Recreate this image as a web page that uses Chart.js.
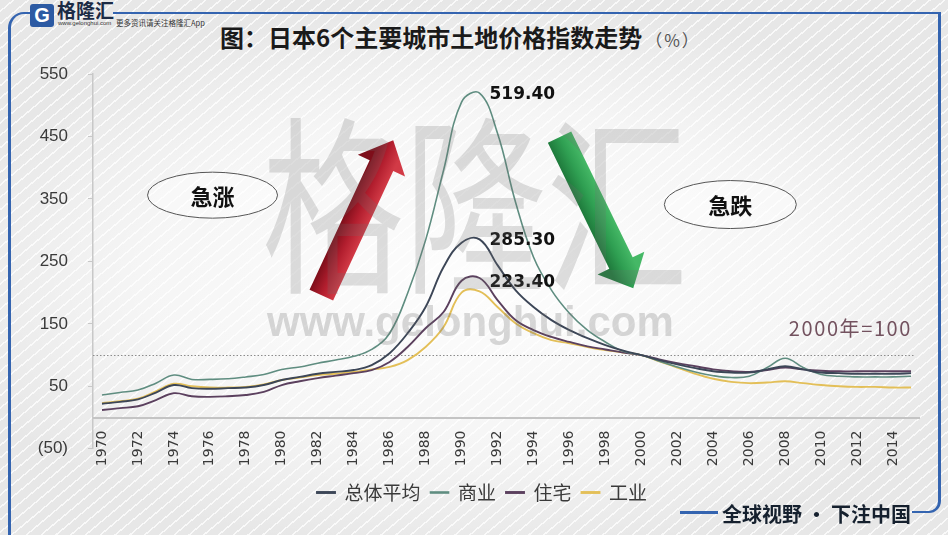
<!DOCTYPE html>
<html>
<head>
<meta charset="utf-8">
<script src="https://cdn.jsdelivr.net/npm/chart.js@4.4.1/dist/chart.umd.min.js"></script>
<style>
html, body { margin: 0; padding: 0; }
body {
  width: 948px; height: 535px; overflow: hidden; position: relative;
  font-family: "Noto Sans CJK SC", sans-serif;
  background:
    radial-gradient(ellipse 58% 52% at 50% 52%, rgba(255,255,255,0.92) 0%, rgba(255,255,255,0.6) 60%, rgba(255,255,255,0) 100%),
    repeating-linear-gradient(140deg, rgba(255,255,255,0) 0px, rgba(255,255,255,0) 8px, rgba(255,255,255,0.75) 8px, rgba(255,255,255,0.75) 9.5px),
    #e7e7e7;
}
#chartBox { position: absolute; left: 0; top: 0; width: 948px; height: 535px; }
#chartBox canvas { display: block; }
.abs { position: absolute; white-space: nowrap; }
#title { left: 220px; top: 19px; font-size: 24px; font-weight: 700; color: #1a1a1a; }
#title span { font-size: 17px; font-weight: 400; color: #555; letter-spacing: 2px; margin-left: 3px; }
#wm1 { left: 262px; top: 100px; font-size: 142px; line-height: 1; color: rgba(110,110,110,0.22);
  transform: scaleY(1.34); transform-origin: top left; pointer-events: none; }
#wm2 { left: 267px; top: 301px; font: bold 42px "Liberation Sans", sans-serif; line-height: 42px;
  color: rgba(110,110,110,0.26); pointer-events: none; }
#frameL { left: 8px; top: 12px; width: 22px; height: 540px; border-left: 3px solid #3464b0; border-top: 2px solid #3464b0; border-top-left-radius: 16px; }
#frameR { left: 113px; top: 12px; width: 825px; height: 478px; border-top: 2px solid #3464b0; border-right: 3px solid #3464b0; }
#frameC { left: 912px; top: 486px; width: 26px; height: 25px; border-right: 3px solid #3464b0; border-bottom: 2.5px solid #3464b0; border-bottom-right-radius: 12px; }
#frameB { left: 680px; top: 511px; width: 38px; height: 2.5px; background: #3464b0; }
#slogan { left: 722px; top: 500px; font-size: 20px; font-weight: 700; color: #15202e; line-height: 28px; }
#logoIcon { left: 30px; top: 4px; width: 24px; height: 23px; background: #2c5aa3; border-radius: 3px;
  color: #fff; font: bold 20px "Liberation Sans", sans-serif; line-height: 23px; text-align: center; }
#logoText { left: 57px; top: -1px; font-size: 19px; font-weight: 700; color: #1c2b45; line-height: 22px; }
#logoUrl { left: 58px; top: 20px; font: 6px "Liberation Sans", sans-serif; color: #333; }
#logoTip { left: 116px; top: 17px; font-size: 7.5px; color: #333; }
</style>
</head>
<body>
<div id="frameL" class="abs"></div>
<div id="frameR" class="abs"></div>
<div id="frameC" class="abs"></div>
<div id="frameB" class="abs"></div>
<div id="logoIcon" class="abs">G</div>
<div id="logoText" class="abs">格隆汇</div>
<div id="logoUrl" class="abs">www.gelonghui.com</div>
<div id="logoTip" class="abs">更多资讯请关注格隆汇App</div>
<div id="title" class="abs">图：日本6个主要城市土地价格指数走势<span>（%）</span></div>
<div id="chartBox"><canvas id="landChart" width="948" height="535"></canvas></div>
<div id="wm1" class="abs">格隆汇</div>
<div id="wm2" class="abs">www.gelonghui.com</div>
<div id="slogan" class="abs">全球视野 • 下注中国</div>

<script>
// Data (2000 = 100)
const years = [
  1970, 1971, 1972, 1973, 1974, 1975, 1976, 1977, 1978, 1979,
  1980, 1981, 1982, 1983, 1984, 1985, 1986, 1987, 1988, 1989,
  1990, 1991, 1992, 1993, 1994, 1995, 1996, 1997, 1998, 1999,
  2000, 2001, 2002, 2003, 2004, 2005, 2006, 2007, 2008, 2009,
  2010, 2011, 2012, 2013, 2014, 2015
];
const seriesNames = ['总体平均', '商业', '住宅', '工业'];
const averageIdx = [
  22, 25, 29, 40, 52, 47, 46, 47, 48, 52,
  60, 65, 70, 73, 76, 84, 103, 135, 177, 241,
  280, 285.3, 244, 204, 177, 156, 140, 127, 116, 107,
  100, 92, 85, 79, 74, 72, 72, 77, 82, 77,
  72, 71, 70, 70, 70, 71
];
const commercialIdx = [
  36, 40, 44, 55, 68, 61, 61, 62, 65, 69,
  77, 81, 87, 92, 98, 109, 135, 199, 284, 396,
  505, 519.4, 455, 345, 257, 204, 167, 140, 121, 106,
  100, 90, 81, 73, 67, 64, 66, 80, 95, 80,
  69, 66, 65, 65, 65, 66
];
const residentialIdx = [
  12, 15, 18, 28, 39, 34, 33, 34, 36, 41,
  52, 58, 63, 67, 71, 76, 89, 113, 143, 169,
  219, 223.4, 188, 156, 140, 129, 121, 114, 109, 104,
  100, 93, 87, 82, 77, 74, 73, 76, 80, 77,
  75, 74, 74, 74, 74, 74
];
const industrialIdx = [
  23, 26, 30, 42, 54, 50, 48, 48, 49, 53,
  60, 64, 68, 70, 73, 77, 81, 92, 113, 145,
  200, 202, 177, 151, 135, 124, 119, 113, 108, 104,
  100, 90, 80, 70, 62, 57, 55, 56, 58, 55,
  52, 50, 49, 49, 48, 48
];
const peakLabels = [
  { year: 1991, value: 519.4, text: '519.40', dy: 1 },
  { year: 1991, value: 285.3, text: '285.30', dy: 1 },
  { year: 1991, value: 223.4, text: '223.40', dy: 5 }
];
const BASE_VALUE = 100;
const baseNote = '2000年=100';

// Colours
const COLORS = ['#3c4657', '#5f8d80', '#5b405e', '#e3bf58'];

const seriesData = [averageIdx, commercialIdx, residentialIdx, industrialIdx];

function drawArrow(ctx, x0, y0, x1, y1, c1, c2, c3) {
  const dx = x1 - x0, dy = y1 - y0, len = Math.hypot(dx, dy);
  const ux = dx / len, uy = dy / len, nx = -uy, ny = ux;
  const bw = 13, hw = 26, hl = 28;
  const hx = x1 - ux * hl, hy = y1 - uy * hl;
  ctx.beginPath();
  ctx.moveTo(x0 + nx * bw, y0 + ny * bw);
  ctx.lineTo(hx + nx * bw, hy + ny * bw);
  ctx.lineTo(hx + nx * hw, hy + ny * hw);
  ctx.lineTo(x1, y1);
  ctx.lineTo(hx - nx * hw, hy - ny * hw);
  ctx.lineTo(hx - nx * bw, hy - ny * bw);
  ctx.lineTo(x0 - nx * bw, y0 - ny * bw);
  ctx.closePath();
  const g = ctx.createLinearGradient(x0 + nx * bw, y0 + ny * bw, x0 - nx * bw, y0 - ny * bw);
  g.addColorStop(0, c1);
  g.addColorStop(0.5, c2);
  g.addColorStop(1, c3);
  ctx.fillStyle = g;
  ctx.fill();
}

const annotate = {
  id: 'annotate',
  beforeDatasetsDraw(chart) {
    const { ctx, chartArea, scales: { y } } = chart;
    ctx.save();
    // horizontal axis line at 0
    const y0 = Math.round(y.getPixelForValue(0));
    ctx.fillStyle = '#c4c4c4';
    ctx.fillRect(chartArea.left, y0 - 1, chartArea.right - chartArea.left, 2);
    // dotted base line (2000 = 100)
    const yb = Math.round(y.getPixelForValue(BASE_VALUE)) + 0.5;
    ctx.strokeStyle = '#8c8c8c';
    ctx.lineWidth = 1;
    ctx.setLineDash([1.5, 2]);
    ctx.beginPath();
    ctx.moveTo(chartArea.left, yb);
    ctx.lineTo(chartArea.right - 6, yb);
    ctx.stroke();
    ctx.restore();
  },
  afterDatasetsDraw(chart) {
    const { ctx, scales: { x, y } } = chart;
    const px = yr => x.getPixelForValue(yr - years[0]);
    ctx.save();

    // peak values
    ctx.fillStyle = '#111';
    ctx.font = 'bold 17px "DejaVu Sans", sans-serif';
    ctx.textBaseline = 'middle';
    ctx.textAlign = 'left';
    peakLabels.forEach(p => {
      ctx.fillText(p.text, px(p.year) + 10, y.getPixelForValue(p.value) + p.dy);
    });

    // base note
    ctx.fillStyle = '#73525f';
    ctx.font = '20px "Noto Sans CJK SC", sans-serif';
    ctx.textAlign = 'right';
    ctx.letterSpacing = '1.6px';
    ctx.fillText(baseNote, px(2015) + 1, y.getPixelForValue(143));
    ctx.letterSpacing = '0px';

    // arrows
    drawArrow(ctx, px(1982.2), y.getPixelForValue(196), px(1986.2), y.getPixelForValue(444),
      '#d23a46', '#b21e2e', '#7e0e1a');
    drawArrow(ctx, px(1995.45), y.getPixelForValue(449), px(1999.55), y.getPixelForValue(207),
      '#1f7a3c', '#2f9f52', '#45b866');

    // ellipses
    const bubbles = [
      { year: 1976.15, value: 356, rx: 65, ry: 23, text: '急涨' },
      { year: 2004.95, value: 341, rx: 66, ry: 24, text: '急跌' }
    ];
    bubbles.forEach(b => {
      const cx = px(b.year), cy = y.getPixelForValue(b.value);
      ctx.beginPath();
      ctx.ellipse(cx, cy, b.rx, b.ry, 0, 0, Math.PI * 2);
      ctx.fillStyle = 'rgba(255,255,255,0.35)';
      ctx.fill();
      ctx.strokeStyle = '#555';
      ctx.lineWidth = 1;
      ctx.stroke();
      ctx.fillStyle = '#111';
      ctx.font = 'bold 22px "Noto Sans CJK SC", sans-serif';
      ctx.textAlign = 'center';
      ctx.fillText(b.text, cx, cy + 1);
    });
    ctx.restore();
  }
};

const ctx = document.getElementById('landChart').getContext('2d');
new Chart(ctx, {
  type: 'line',
  data: {
    labels: years.map(String),
    datasets: seriesNames.map((name, i) => ({
      label: name,
      data: seriesData[i],
      borderColor: COLORS[i],
      backgroundColor: COLORS[i],
      borderWidth: i === 1 ? 1.6 : 1.9,
      pointRadius: 0,
      tension: 0.4,
      fill: false
    }))
  },
  options: {
    responsive: false,
    animation: false,
    events: [],
    layout: { padding: { left: 20, right: 4, top: 74, bottom: 23 } },
    scales: {
      x: {
        type: 'category',
        position: { y: 0 },
        offset: true,
        grid: { display: false, drawTicks: false },
        border: { display: false },
        ticks: {
          autoSkip: false,
          minRotation: 90,
          maxRotation: 90,
          padding: 13,
          color: '#3a3a3a',
          font: { family: '"DejaVu Sans", sans-serif', size: 14 },
          callback: (v, i) => (years[i] % 2 === 0 ? String(years[i]) : '')
        }
      },
      xPad: {
        type: 'category',
        position: 'bottom',
        grid: { display: false },
        border: { display: false },
        ticks: { display: false },
        afterFit: s => { s.height = 24.25; }
      },
      y: {
        min: -50,
        max: 550,
        grid: { drawOnChartArea: false, drawTicks: true, tickLength: 5, color: '#c8c8c8' },
        border: { display: true, color: '#c8c8c8', width: 1.5 },
        ticks: {
          stepSize: 100,
          padding: 20,
          color: '#3a3a3a',
          font: { family: '"Liberation Sans", sans-serif', size: 17 },
          callback: v => (v < 0 ? '(' + (-v) + ')' : String(v))
        },
        afterFit: s => { s.width = 73; }
      },
      yPad: {
        type: 'linear',
        position: 'right',
        grid: { display: false },
        border: { display: false },
        ticks: { display: false },
        afterFit: s => { s.width = 24; }
      }
    },
    plugins: {
      legend: {
        position: 'bottom',
        labels: {
          boxWidth: 18,
          boxHeight: 1,
          padding: 10,
          color: '#3a3a3a',
          font: { family: '"Noto Sans CJK SC", sans-serif', size: 19 }
        }
      },
      tooltip: { enabled: false }
    }
  },
  plugins: [annotate]
});
</script>
</body>
</html>
